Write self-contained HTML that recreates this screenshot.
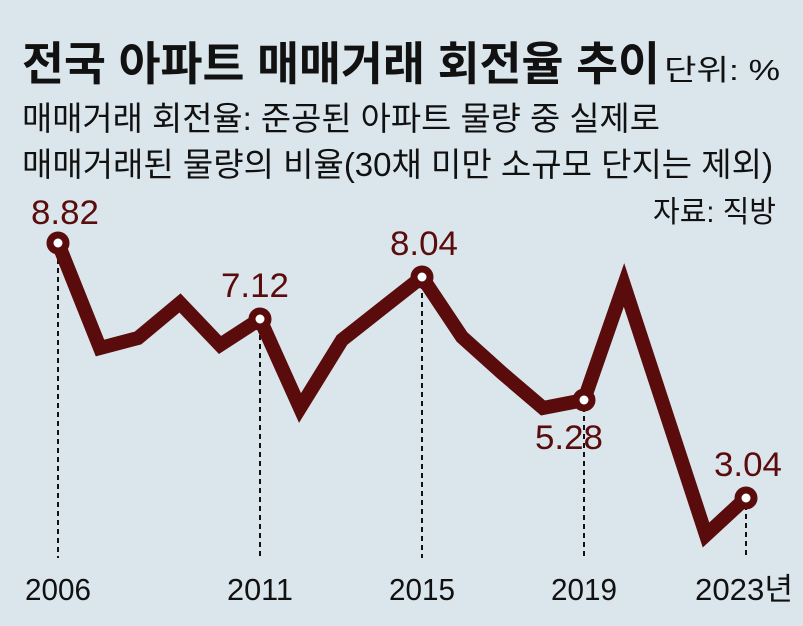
<!DOCTYPE html>
<html><head><meta charset="utf-8"><style>
html,body{margin:0;padding:0;background:#dbe6ec;}
svg{display:block}
text{font-family:"Liberation Sans","Noto Sans CJK KR",sans-serif;}
</style></head><body>
<svg width="803" height="626" viewBox="0 0 803 626">
<rect width="803" height="626" fill="#dbe6ec"/>
<text x="22" y="80" font-size="46" font-weight="bold" fill="#111" textLength="638" lengthAdjust="spacingAndGlyphs">전국 아파트 매매거래 회전율 추이</text>
<text x="664" y="80" font-size="29" fill="#111" textLength="116" lengthAdjust="spacingAndGlyphs">단위: %</text>
<text x="22" y="130" font-size="33" fill="#111" textLength="638" lengthAdjust="spacingAndGlyphs">매매거래 회전율: 준공된 아파트 물량 중 실제로</text>
<text x="22" y="176" font-size="33" fill="#111" textLength="751" lengthAdjust="spacingAndGlyphs">매매거래된 물량의 비율(30채 미만 소규모 단지는 제외)</text>
<text x="776" y="222" font-size="30" fill="#111" text-anchor="end" textLength="123" lengthAdjust="spacingAndGlyphs">자료: 직방</text>
<g stroke="#111" stroke-width="2" stroke-dasharray="5,4">
<line x1="58" y1="250" x2="58" y2="558"/>
<line x1="260" y1="326" x2="260" y2="558"/>
<line x1="422" y1="284" x2="422" y2="558"/>
<line x1="584" y1="407" x2="584" y2="558"/>
<line x1="746" y1="505" x2="746" y2="558"/>
</g>
<polyline fill="none" stroke="#5a0c0c" stroke-width="14" stroke-linejoin="miter" points="58,243 100,348 138,338 180,303 220,345 260,319 300,408 342,340 380,310 422,277 462,337 502,373 543,408 584,400 624,285 665,410 706,535 746,498"/>
<g fill="#fff" stroke="#5a0c0c" stroke-width="7">
<circle cx="58" cy="243" r="8"/><circle cx="260" cy="319" r="8"/><circle cx="422" cy="277" r="8"/><circle cx="584" cy="400" r="8"/><circle cx="746" cy="498" r="8"/>
</g>
<g fill="#5a0c0c" font-size="34" text-anchor="middle">
<text x="65" y="224" textLength="68" lengthAdjust="spacingAndGlyphs">8.82</text>
<text x="255" y="297" textLength="68" lengthAdjust="spacingAndGlyphs">7.12</text>
<text x="424" y="255" textLength="68" lengthAdjust="spacingAndGlyphs">8.04</text>
<text x="569" y="449" textLength="68" lengthAdjust="spacingAndGlyphs">5.28</text>
<text x="748" y="476" textLength="68" lengthAdjust="spacingAndGlyphs">3.04</text>
</g>
<g fill="#111" font-size="31" text-anchor="middle">
<text x="58" y="600" textLength="66" lengthAdjust="spacingAndGlyphs">2006</text>
<text x="260" y="600" textLength="66" lengthAdjust="spacingAndGlyphs">2011</text>
<text x="422" y="600" textLength="66" lengthAdjust="spacingAndGlyphs">2015</text>
<text x="584" y="600" textLength="66" lengthAdjust="spacingAndGlyphs">2019</text>
<text x="744" y="600" textLength="98" lengthAdjust="spacingAndGlyphs">2023년</text>
</g>
</svg>
</body></html>
